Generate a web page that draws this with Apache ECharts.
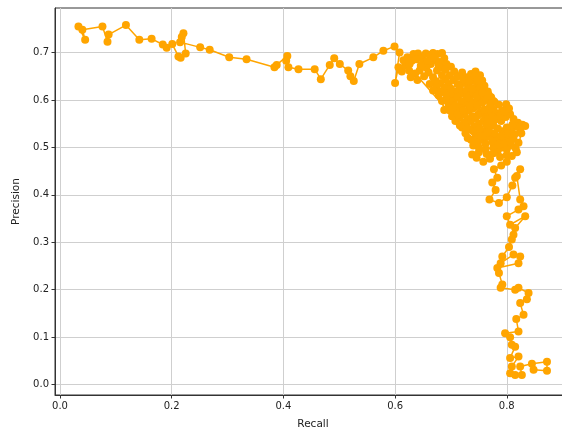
<!DOCTYPE html>
<html>
<head>
<meta charset="utf-8">
<script src="https://cdn.jsdelivr.net/npm/echarts@6/dist/echarts.min.js"></script>
<style>
  html, body { margin: 0; padding: 0; background: #fff; }
  #chart { width: 562px; height: 428px; }
</style>
</head>
<body>
<div id="chart"></div>
<script>
// precision / recall pairs, in path order, in three stretches
var plateauRecall = [
  0.033, 0.045, 0.040, 0.076, 0.085, 0.087, 0.118, 0.142, 0.164, 0.184,
  0.191, 0.201, 0.212, 0.216, 0.225, 0.221, 0.218, 0.215, 0.251, 0.268,
  0.303, 0.334, 0.384, 0.388, 0.407, 0.405, 0.409, 0.427, 0.456, 0.467,
  0.483, 0.491, 0.501, 0.516, 0.520, 0.526, 0.536, 0.561, 0.579, 0.599,
  0.608
];
var plateauPrecision = [
  0.755, 0.727, 0.748, 0.755, 0.723, 0.738, 0.758, 0.727, 0.729, 0.717,
  0.710, 0.718, 0.692, 0.689, 0.698, 0.741, 0.733, 0.722, 0.711, 0.706,
  0.690, 0.686, 0.669, 0.674, 0.693, 0.683, 0.669, 0.665, 0.665, 0.644,
  0.674, 0.688, 0.676, 0.662, 0.650, 0.640, 0.676, 0.690, 0.704, 0.713,
  0.700
];

var clusterRecall = [
  0.600, 0.606, 0.612, 0.618, 0.625, 0.630, 0.622, 0.633, 0.641,
  0.648, 0.655, 0.662, 0.668, 0.676, 0.684, 0.688, 0.680, 0.672, 0.664,
  0.656, 0.650, 0.644, 0.636, 0.628, 0.640, 0.652, 0.660, 0.668, 0.675,
  0.683, 0.692, 0.700, 0.706, 0.698, 0.690, 0.682, 0.674, 0.680, 0.688,
  0.696, 0.704, 0.712, 0.720, 0.728, 0.736, 0.744, 0.752, 0.756, 0.748,
  0.740, 0.732, 0.724, 0.716, 0.708, 0.700, 0.692, 0.684, 0.688, 0.696,
  0.704, 0.712, 0.720, 0.728, 0.736, 0.744, 0.752, 0.760, 0.766, 0.758,
  0.750, 0.742, 0.734, 0.726, 0.718, 0.710, 0.702, 0.708, 0.716, 0.724,
  0.732, 0.740, 0.748, 0.756, 0.764, 0.772, 0.778, 0.786, 0.799, 0.792,
  0.784, 0.776, 0.768, 0.760, 0.752, 0.744, 0.736, 0.728, 0.720, 0.726,
  0.734, 0.742, 0.750, 0.758, 0.766, 0.774, 0.782, 0.790, 0.798, 0.806,
  0.812, 0.820, 0.828, 0.833, 0.824, 0.816, 0.808, 0.800, 0.792, 0.784,
  0.776, 0.768, 0.760, 0.752, 0.744, 0.736, 0.740, 0.748, 0.756, 0.764,
  0.772, 0.780, 0.788, 0.796, 0.804, 0.812, 0.821, 0.816, 0.808, 0.800,
  0.792, 0.784, 0.776, 0.762, 0.750, 0.738, 0.746, 0.758, 0.770,
  0.615, 0.626, 0.638, 0.646, 0.658, 0.670, 0.678, 0.690, 0.684, 0.672,
  0.662, 0.668, 0.678, 0.690, 0.700, 0.712, 0.722, 0.732, 0.742, 0.748,
  0.738, 0.728, 0.718, 0.708, 0.698, 0.712, 0.722, 0.734, 0.746, 0.756,
  0.768, 0.776, 0.770, 0.760, 0.748, 0.738, 0.730, 0.724, 0.716, 0.730,
  0.740, 0.752, 0.764, 0.776, 0.788, 0.796, 0.804, 0.810, 0.800, 0.790,
  0.778, 0.766, 0.754, 0.742, 0.730, 0.750, 0.762, 0.774, 0.786, 0.796,
  0.806, 0.814, 0.826, 0.818, 0.800, 0.788, 0.776, 0.764
];
var clusterPrecision = [
  0.636, 0.669, 0.660, 0.672, 0.662, 0.683, 0.690, 0.697, 0.698,
  0.690, 0.698, 0.695, 0.699, 0.697, 0.699, 0.688, 0.680, 0.684, 0.676,
  0.668, 0.679, 0.662, 0.656, 0.648, 0.642, 0.650, 0.658, 0.648, 0.662,
  0.668, 0.676, 0.670, 0.660, 0.652, 0.644, 0.636, 0.628, 0.618, 0.626,
  0.634, 0.642, 0.650, 0.658, 0.648, 0.655, 0.660, 0.652, 0.641, 0.632,
  0.640, 0.630, 0.636, 0.626, 0.618, 0.610, 0.602, 0.598, 0.579, 0.590,
  0.598, 0.606, 0.614, 0.620, 0.612, 0.620, 0.626, 0.630, 0.618, 0.608,
  0.600, 0.594, 0.600, 0.592, 0.584, 0.576, 0.566, 0.556, 0.562, 0.570,
  0.578, 0.582, 0.588, 0.594, 0.600, 0.606, 0.596, 0.590, 0.591, 0.578,
  0.572, 0.580, 0.574, 0.568, 0.574, 0.562, 0.556, 0.550, 0.542, 0.530,
  0.538, 0.544, 0.550, 0.556, 0.560, 0.566, 0.560, 0.556, 0.564, 0.570,
  0.560, 0.552, 0.548, 0.545, 0.538, 0.544, 0.536, 0.542, 0.534, 0.540,
  0.546, 0.540, 0.534, 0.528, 0.522, 0.516, 0.504, 0.510, 0.516, 0.522,
  0.526, 0.520, 0.514, 0.520, 0.526, 0.518, 0.510, 0.498, 0.504, 0.496,
  0.500, 0.494, 0.500, 0.496, 0.490, 0.485, 0.478, 0.470, 0.476,
  0.684, 0.676, 0.686, 0.672, 0.682, 0.690, 0.674, 0.664, 0.652, 0.640,
  0.634, 0.620, 0.610, 0.614, 0.624, 0.634, 0.644, 0.640, 0.650, 0.642,
  0.624, 0.606, 0.598, 0.588, 0.578, 0.570, 0.578, 0.588, 0.608, 0.616,
  0.610, 0.598, 0.588, 0.580, 0.568, 0.566, 0.560, 0.552, 0.546, 0.540,
  0.534, 0.540, 0.548, 0.556, 0.566, 0.576, 0.582, 0.548, 0.530, 0.524,
  0.530, 0.532, 0.524, 0.512, 0.520, 0.500, 0.508, 0.512, 0.506, 0.508,
  0.512, 0.528, 0.530, 0.490, 0.484, 0.480, 0.488, 0.486
];

var tailRecall = [
  0.809, 0.800, 0.790, 0.777, 0.783, 0.774, 0.780, 0.769, 0.786, 0.800,
  0.810, 0.815, 0.824, 0.818, 0.824, 0.830, 0.821, 0.800, 0.806, 0.833,
  0.815, 0.812, 0.809, 0.804, 0.792, 0.789, 0.812, 0.824, 0.821, 0.783,
  0.786, 0.792, 0.789, 0.815, 0.821, 0.839, 0.836, 0.824, 0.830, 0.817,
  0.821, 0.797, 0.806, 0.809, 0.815, 0.806, 0.821, 0.809, 0.806, 0.815,
  0.827, 0.824, 0.845, 0.872, 0.872, 0.848
];
var tailPrecision = [
  0.482, 0.470, 0.462, 0.454, 0.436, 0.426, 0.410, 0.390, 0.383, 0.395,
  0.420, 0.436, 0.454, 0.440, 0.390, 0.376, 0.369, 0.355, 0.337, 0.355,
  0.330, 0.316, 0.306, 0.290, 0.270, 0.256, 0.274, 0.270, 0.256, 0.246,
  0.235, 0.211, 0.204, 0.200, 0.204, 0.193, 0.180, 0.172, 0.147, 0.138,
  0.112, 0.108, 0.100, 0.084, 0.080, 0.056, 0.059, 0.038, 0.024, 0.020,
  0.020, 0.038, 0.044, 0.048, 0.029, 0.031
];

var xTicks = [0, 0.2, 0.4, 0.6, 0.8];
var yTicks = [0, 0.1, 0.2, 0.3, 0.4, 0.5, 0.6, 0.7];

var recall = plateauRecall.concat(clusterRecall, tailRecall);
var precision = plateauPrecision.concat(clusterPrecision, tailPrecision);
var points = recall.map(function (r, i) { return [r, precision[i]]; });

var chart = echarts.init(document.getElementById('chart'));
var font = 'DejaVu Sans';

var option = {
  animation: false,
  grid: {
    left: 55, top: 8, right: -9, bottom: 33,
    outerBoundsMode: 'none',
    show: true, borderColor: '#333', borderWidth: 1, backgroundColor: 'transparent'
  },
  xAxis: {
    type: 'value',
    min: -0.009, max: 0.915,
    name: 'Recall', nameLocation: 'middle', nameGap: 24,
    nameTextStyle: { fontFamily: font, fontSize: 10.5, color: '#222' },
    axisLine: { show: true, onZero: false, lineStyle: { color: '#333' } },
    axisTick: { show: true, length: 3.5, customValues: xTicks, lineStyle: { color: '#333' } },
    axisLabel: {
      customValues: xTicks, margin: 6,
      fontFamily: font, fontSize: 10, color: '#222',
      formatter: function (v) { return v.toFixed(1); }
    },
    splitLine: { show: true, lineStyle: { color: '#cfcfcf', width: 1 } }
  },
  yAxis: {
    type: 'value',
    min: -0.022, max: 0.794,
    name: 'Precision', nameLocation: 'middle', nameGap: 31,
    nameTextStyle: { fontFamily: font, fontSize: 10.5, color: '#222' },
    axisLine: { show: true, onZero: false, lineStyle: { color: '#333' } },
    axisTick: { show: true, length: 3.5, customValues: yTicks, lineStyle: { color: '#333' } },
    axisLabel: {
      customValues: yTicks, margin: 6,
      fontFamily: font, fontSize: 10, color: '#222',
      formatter: function (v) { return v.toFixed(1); }
    },
    splitLine: { show: true, lineStyle: { color: '#cfcfcf', width: 1 } }
  },
  series: [{
    type: 'line',
    data: points,
    symbol: 'circle',
    symbolSize: 8,
    showSymbol: true,
    lineStyle: { color: '#ffa500', width: 1.5 },
    itemStyle: { color: '#ffa500', borderWidth: 0 }
  }]
};

chart.setOption(option);
</script>
</body>
</html>
